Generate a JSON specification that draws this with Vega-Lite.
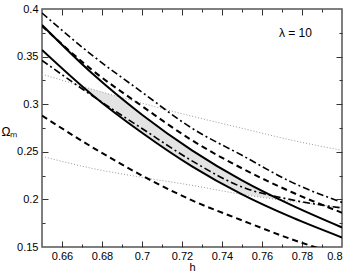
{
  "$schema": "https://vega.github.io/schema/vega-lite/v6.json",
  "width": 300,
  "height": 238,
  "autosize": {"type": "none"},
  "padding": {"left": 42, "top": 9, "right": 11, "bottom": 26},
  "config": {
    "view": {"stroke": "#555", "strokeWidth": 1.5},
    "font": "Liberation Sans",
    "axis": {"grid": false, "domain": false, "labelFont": "Liberation Sans", "labelFontSize": 11, "labelColor": "#000", "tickColor": "#333", "titleFont": "Liberation Sans", "titleFontWeight": "normal", "titleColor": "#000"}
  },
  "datasets": {
    "S1": [{"h":0.65,"om":0.38316},{"h":0.675,"om":0.3325},{"h":0.70,"om":0.289},{"h":0.725,"om":0.25158},{"h":0.75,"om":0.22},{"h":0.775,"om":0.19368},{"h":0.80,"om":0.17053}],
    "S2": [{"h":0.65,"om":0.357},{"h":0.675,"om":0.310},{"h":0.70,"om":0.270},{"h":0.725,"om":0.2347},{"h":0.75,"om":0.2053},{"h":0.775,"om":0.18105},{"h":0.80,"om":0.16}],
    "D1": [{"h":0.65,"om":0.38211},{"h":0.675,"om":0.336},{"h":0.70,"om":0.298},{"h":0.725,"om":0.26211},{"h":0.75,"om":0.23263},{"h":0.775,"om":0.2075},{"h":0.80,"om":0.186}],
    "D2": [{"h":0.65,"om":0.288},{"h":0.675,"om":0.255},{"h":0.70,"om":0.225},{"h":0.725,"om":0.199},{"h":0.75,"om":0.178},{"h":0.775,"om":0.158},{"h":0.80,"om":0.141}],
    "DD1": [{"h":0.65,"om":0.39579},{"h":0.675,"om":0.35158},{"h":0.70,"om":0.31263},{"h":0.725,"om":0.27474},{"h":0.75,"om":0.24632},{"h":0.775,"om":0.21789},{"h":0.80,"om":0.19679}],
    "DD2": [{"h":0.65,"om":0.346},{"h":0.675,"om":0.309},{"h":0.70,"om":0.2745},{"h":0.725,"om":0.2405},{"h":0.75,"om":0.213},{"h":0.775,"om":0.1995},{"h":0.80,"om":0.191}],
    "PU": [{"h":0.65,"om":0.33158},{"h":0.675,"om":0.31579},{"h":0.70,"om":0.30105},{"h":0.725,"om":0.28737},{"h":0.75,"om":0.27474},{"h":0.775,"om":0.26211},{"h":0.80,"om":0.25158}],
    "PL": [{"h":0.65,"om":0.24526},{"h":0.675,"om":0.23263},{"h":0.70,"om":0.22316},{"h":0.725,"om":0.21474},{"h":0.75,"om":0.20526},{"h":0.775,"om":0.19789},{"h":0.80,"om":0.19158}],
    "AREA": [{"h":0.6704,"lo":0.3187,"hi":0.3187},{"h":0.675,"lo":0.310,"hi":0.3158},{"h":0.6895,"lo":0.2868,"hi":0.3073},{"h":0.70,"lo":0.270,"hi":0.289},{"h":0.725,"lo":0.2347,"hi":0.2516},{"h":0.75,"lo":0.2053,"hi":0.22},{"h":0.7694,"lo":0.1995,"hi":0.1995}],
    "LAB": [{"h":0.7767,"om":0.3747,"label":"λ = 10"}]
  },
  "resolve": {"axis": {"x": "independent", "y": "independent"}},
  "layer": [
    {
      "data": {"name": "AREA"},
      "mark": {"type": "area", "color": "#e3e3e3", "clip": true},
      "encoding": {
        "x": {"field": "h", "type": "quantitative", "scale": {"domain": [0.65, 0.8], "nice": false, "zero": false},
              "axis": {"orient": "bottom", "values": [0.66,0.68,0.7,0.72,0.74,0.76,0.78,0.8], "format": "~g", "ticks": false, "labelPadding": 3, "title": "h", "titleFontSize": 11, "titlePadding": 0}},
        "y": {"field": "lo", "type": "quantitative", "scale": {"domain": [0.15, 0.4], "nice": false, "zero": false},
              "axis": {"orient": "left", "values": [0.15,0.2,0.25,0.3,0.35,0.4], "format": "~g", "ticks": false, "labelPadding": 4, "title": "Ωₘ", "titleAngle": 0, "titleFontSize": 12, "titleX": -33, "titleY": 122, "titleAlign": "center", "titleBaseline": "middle"}},
        "y2": {"field": "hi"}
      }
    },
    {
      "data": {"name": "PU"},
      "mark": {"type": "line", "color": "#999", "strokeWidth": 1, "strokeDash": [1, 2], "interpolate": "monotone", "clip": true},
      "encoding": {
        "x": {"field": "h", "type": "quantitative", "axis": {"orient": "bottom", "values": [0.66,0.68,0.7,0.72,0.74,0.76,0.78], "labels": false, "tickSize": -6, "tickWidth": 1, "title": null}},
        "y": {"field": "om", "type": "quantitative", "axis": {"orient": "left", "values": [0.2,0.25,0.3,0.35], "labels": false, "tickSize": -6, "title": null}}
      }
    },
    {
      "data": {"name": "PL"},
      "mark": {"type": "line", "color": "#999", "strokeWidth": 1, "strokeDash": [1, 2], "interpolate": "monotone", "clip": true},
      "encoding": {
        "x": {"field": "h", "type": "quantitative", "axis": {"orient": "bottom", "values": [0.67,0.69,0.71,0.73,0.75,0.77,0.79], "labels": false, "tickSize": -3, "title": null}},
        "y": {"field": "om", "type": "quantitative", "axis": {"orient": "left", "values": [0.175,0.225,0.275,0.325,0.375], "labels": false, "tickSize": -3, "title": null}}
      }
    },
    {
      "data": {"name": "S1"},
      "mark": {"type": "line", "color": "#000", "strokeWidth": 2, "interpolate": "monotone", "clip": true},
      "encoding": {
        "x": {"field": "h", "type": "quantitative", "axis": {"orient": "top", "values": [0.66,0.68,0.7,0.72,0.74,0.76,0.78], "labels": false, "tickSize": -6, "title": null}},
        "y": {"field": "om", "type": "quantitative", "axis": {"orient": "right", "values": [0.2,0.25,0.3,0.35], "labels": false, "tickSize": -6, "title": null}}
      }
    },
    {
      "data": {"name": "S2"},
      "mark": {"type": "line", "color": "#000", "strokeWidth": 2, "interpolate": "monotone", "clip": true},
      "encoding": {
        "x": {"field": "h", "type": "quantitative", "axis": {"orient": "top", "values": [0.67,0.69,0.71,0.73,0.75,0.77,0.79], "labels": false, "tickSize": -3, "title": null}},
        "y": {"field": "om", "type": "quantitative", "axis": {"orient": "right", "values": [0.175,0.225,0.275,0.325,0.375], "labels": false, "tickSize": -3, "title": null}}
      }
    },
    {
      "data": {"name": "D1"},
      "mark": {"type": "line", "color": "#000", "strokeWidth": 2, "strokeDash": [6, 4], "interpolate": "monotone", "clip": true},
      "encoding": {
        "x": {"field": "h", "type": "quantitative", "axis": null},
        "y": {"field": "om", "type": "quantitative", "axis": null}
      }
    },
    {
      "data": {"name": "D2"},
      "mark": {"type": "line", "color": "#000", "strokeWidth": 2, "strokeDash": [6, 4], "interpolate": "monotone", "clip": true},
      "encoding": {
        "x": {"field": "h", "type": "quantitative", "axis": null},
        "y": {"field": "om", "type": "quantitative", "axis": null}
      }
    },
    {
      "data": {"name": "DD1"},
      "mark": {"type": "line", "color": "#000", "strokeWidth": 1.6, "strokeDash": [7, 3, 2, 3], "interpolate": "monotone", "clip": true},
      "encoding": {
        "x": {"field": "h", "type": "quantitative", "axis": null},
        "y": {"field": "om", "type": "quantitative", "axis": null}
      }
    },
    {
      "data": {"name": "DD2"},
      "mark": {"type": "line", "color": "#000", "strokeWidth": 1.6, "strokeDash": [7, 3, 2, 3], "interpolate": "monotone", "clip": true},
      "encoding": {
        "x": {"field": "h", "type": "quantitative", "axis": null},
        "y": {"field": "om", "type": "quantitative", "axis": null}
      }
    },
    {
      "data": {"name": "LAB"},
      "mark": {"type": "text", "fontSize": 12, "font": "Liberation Sans", "color": "#000"},
      "encoding": {
        "x": {"field": "h", "type": "quantitative", "axis": null},
        "y": {"field": "om", "type": "quantitative", "axis": null},
        "text": {"field": "label"}
      }
    }
  ]
}
